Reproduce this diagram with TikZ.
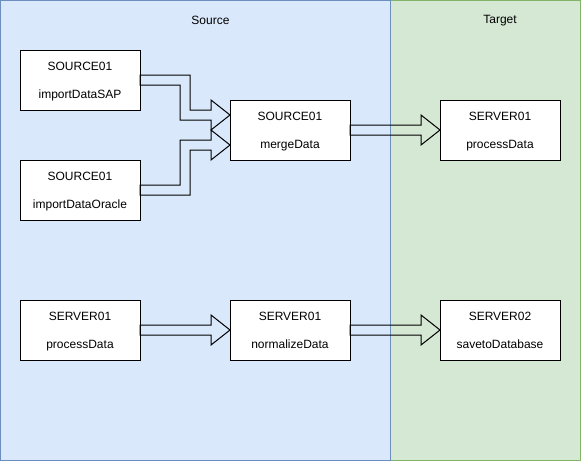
\documentclass[tikz,border=0pt]{standalone}
\usepackage{fontspec}
\setmainfont{Liberation Sans}
\usetikzlibrary{calc}
\definecolor{srcfill}{HTML}{DAE8FC}
\definecolor{srcline}{HTML}{6C8EBF}
\definecolor{tgtfill}{HTML}{D5E8D4}
\definecolor{tgtline}{HTML}{82B366}
\newcommand\flexstraight[2]{%
  \draw[flex] let \p1=(#1.east), \p2=(#2.west) in
    (\x1,\y1+5pt) -- (\x2-19pt,\y1+5pt) -- (\x2-19pt,\y1+15pt) -- (\x2,\y1)
    -- (\x2-19pt,\y1-15pt) -- (\x2-19pt,\y1-5pt) -- (\x1,\y1-5pt) -- cycle;}
\newcommand\twolines[2]{\rule{0pt}{11.7pt}#1\\[13.1pt]#2\rule[-2.8pt]{0pt}{2.8pt}}
\begin{document}
\begin{tikzpicture}[x=1pt,y=-1pt,
  task/.style={draw=black,fill=white,line width=1pt,minimum width=120pt,minimum height=60pt,
    inner sep=0pt,outer sep=0pt,align=center,font=\fontsize{12}{14.4}\selectfont},
  flex/.style={draw=black,line width=1pt,line join=miter},
  title/.style={font=\fontsize{12}{14.4}\selectfont,inner sep=0pt}]
\useasboundingbox (0,0) rectangle (581,461);
\draw[fill=tgtfill,draw=tgtline,line width=1pt] (390.5,0.5) rectangle (580.5,460.5);
\draw[fill=srcfill,draw=srcline,line width=1pt] (0.5,0.5) rectangle (390.5,460.5);
\node[title] (srcT) at (210.5,20.7) {Source};
\node[title] (tgtT) at (500,20.7) {Target};
\node[task] (sap) at (80,80) {\twolines{SOURCE01}{importDataSAP}};
\node[task] (ora) at (80,190) {\twolines{SOURCE01}{importDataOracle}};
\node[task] (merge) at (290,130) {\twolines{SOURCE01}{mergeData}};
\node[task] (proc1) at (500,130) {\twolines{SERVER01}{processData}};
\node[task] (proc2) at (80,330) {\twolines{SERVER01}{processData}};
\node[task] (norm) at (290,330) {\twolines{SERVER01}{normalizeData}};
\node[task] (save) at (500,330) {\twolines{SERVER02}{savetoDatabase}};
% elbow flex arrows into merge
\draw[flex] let \p1=(sap.east), \p2=(merge.west),
    \p3=($(sap.east)!0.5!(merge.west)$), \p4=($(merge.west)+(0,-15)$) in
  (\x1,\y1+5pt) -- (\x3+5pt,\y1+5pt) -- (\x3+5pt,\y4+5pt) -- (\x2-19pt,\y4+5pt)
  -- (\x2-19pt,\y4+15pt) -- (\x2,\y4) -- (\x2-19pt,\y4-15pt) -- (\x2-19pt,\y4-5pt)
  -- (\x3-5pt,\y4-5pt) -- (\x3-5pt,\y1-5pt) -- (\x1,\y1-5pt) -- cycle;
\draw[flex] let \p1=(ora.east), \p2=(merge.west),
    \p3=($(ora.east)!0.5!(merge.west)$), \p4=($(merge.west)+(0,15)$) in
  (\x1,\y1-5pt) -- (\x3+5pt,\y1-5pt) -- (\x3+5pt,\y4-5pt) -- (\x2-19pt,\y4-5pt)
  -- (\x2-19pt,\y4-15pt) -- (\x2,\y4) -- (\x2-19pt,\y4+15pt) -- (\x2-19pt,\y4+5pt)
  -- (\x3-5pt,\y4+5pt) -- (\x3-5pt,\y1+5pt) -- (\x1,\y1+5pt) -- cycle;
\flexstraight{merge}{proc1}
\flexstraight{proc2}{norm}
\flexstraight{norm}{save}
\end{tikzpicture}
\end{document}
